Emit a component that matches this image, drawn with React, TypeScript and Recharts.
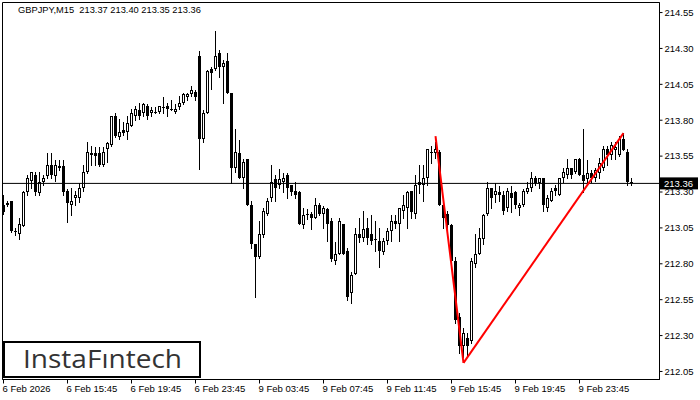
import React from "react";
import { ComposedChart, Bar, Line, XAxis, YAxis, ReferenceLine, ReferenceArea } from "recharts";

// GBPJPY M15 candles
const OPEN = [
  213.21, 213.22, 213.24, 213.03, 213.01, 213.06, 213.30, 213.38, 213.42, 213.29,
  213.37, 213.41, 213.49, 213.41, 213.48, 213.48, 213.31, 213.21, 213.26, 213.26,
  213.33, 213.44, 213.57, 213.57, 213.57, 213.49, 213.60, 213.63, 213.83, 213.68,
  213.73, 213.72, 213.76, 213.83, 213.87, 213.85, 213.90, 213.85, 213.855, 213.86,
  213.89, 213.90, 213.88, 213.86, 213.89, 213.92, 213.96, 213.98, 214.00, 214.25,
  213.67, 213.85, 214.16, 214.16, 214.27, 214.17, 214.21, 213.99, 213.47, 213.57,
  213.40, 213.53, 213.21, 212.94, 212.85, 213.00, 213.15, 213.26, 213.39, 213.35,
  213.37, 213.42, 213.35, 213.31, 213.30, 213.07, 213.15, 213.15, 213.12, 213.21,
  213.15, 213.18, 213.10, 212.82, 212.87, 213.08, 212.89, 212.60, 212.73, 213.01,
  212.98, 213.05, 213.01, 212.97, 212.96, 212.88, 212.96, 213.03, 213.10, 213.08,
  213.17, 213.19, 213.31, 213.15, 213.37, 213.35, 213.40, 213.58, 213.57, 213.58,
  213.21, 213.15, 213.07, 212.82, 212.43, 212.23, 212.28, 212.26, 212.80, 212.87,
  212.97, 213.15, 213.33, 213.28, 213.30, 213.28, 213.19, 213.29, 213.30, 213.19,
  213.21, 213.30, 213.33, 213.40, 213.36, 213.40, 213.19, 213.24, 213.33, 213.28,
  213.40, 213.42, 213.47, 213.44, 213.53, 213.42, 213.39, 213.43, 213.40, 213.43,
  213.47, 213.60, 213.56, 213.59, 213.56, 213.67, 213.58, 213.37,
];
const HIGH = [
  213.28, 213.24, 213.24, 213.05, 213.12, 213.31, 213.42, 213.44, 213.44, 213.44,
  213.42, 213.57, 213.57, 213.52, 213.52, 213.52, 213.32, 213.33, 213.31, 213.36,
  213.49, 213.65, 213.62, 213.61, 213.61, 213.61, 213.65, 213.83, 213.85, 213.81,
  213.79, 213.83, 213.88, 213.90, 213.92, 213.92, 213.91, 213.89, 213.89, 213.90,
  213.96, 213.92, 213.94, 213.91, 213.97, 213.99, 213.99, 214.04, 214.01, 214.28,
  213.87, 214.15, 214.17, 214.42, 214.29, 214.22, 214.27, 213.99, 213.74, 213.66,
  213.53, 213.53, 213.24, 212.94, 213.10, 213.19, 213.26, 213.49, 213.42, 213.46,
  213.43, 213.43, 213.35, 213.37, 213.31, 213.19, 213.18, 213.16, 213.26, 213.22,
  213.20, 213.19, 213.12, 212.95, 213.12, 213.08, 212.91, 212.74, 213.05, 213.12,
  213.17, 213.12, 213.14, 213.10, 213.05, 212.98, 213.05, 213.14, 213.14, 213.19,
  213.28, 213.31, 213.31, 213.42, 213.49, 213.49, 213.60, 213.62, 213.65, 213.59,
  213.21, 213.17, 213.08, 212.85, 212.46, 212.35, 212.32, 212.84, 213.01, 213.05,
  213.15, 213.37, 213.33, 213.36, 213.34, 213.31, 213.33, 213.34, 213.31, 213.22,
  213.32, 213.37, 213.44, 213.41, 213.40, 213.40, 213.28, 213.33, 213.35, 213.40,
  213.47, 213.53, 213.47, 213.53, 213.54, 213.74, 213.52, 213.45, 213.47, 213.54,
  213.62, 213.62, 213.65, 213.65, 213.69, 213.71, 213.60, 213.40,
];
const LOW = [
  213.15, 213.20, 213.02, 213.00, 212.97, 213.06, 213.28, 213.33, 213.28, 213.28,
  213.35, 213.40, 213.40, 213.38, 213.45, 213.28, 213.09, 213.14, 213.21, 213.23,
  213.31, 213.43, 213.49, 213.49, 213.48, 213.48, 213.51, 213.62, 213.68, 213.67,
  213.70, 213.67, 213.76, 213.80, 213.81, 213.83, 213.81, 213.83, 213.85, 213.85,
  213.85, 213.83, 213.87, 213.85, 213.88, 213.91, 213.94, 213.97, 213.94, 213.46,
  213.65, 213.85, 214.02, 214.15, 214.10, 213.92, 213.99, 213.36, 213.44, 213.40,
  213.33, 213.21, 212.91, 212.57, 212.84, 212.99, 213.14, 213.24, 213.24, 213.33,
  213.30, 213.26, 213.28, 213.26, 213.08, 213.05, 213.11, 213.04, 213.12, 213.14,
  213.05, 212.96, 212.82, 212.80, 212.87, 212.87, 212.55, 212.53, 212.73, 212.95,
  212.96, 212.94, 212.94, 212.89, 212.78, 212.87, 212.94, 212.96, 213.05, 212.96,
  213.12, 213.05, 213.12, 213.12, 213.29, 213.24, 213.35, 213.50, 213.54, 213.21,
  213.05, 213.05, 212.82, 212.39, 212.18, 212.15, 212.15, 212.25, 212.78, 212.87,
  212.94, 213.14, 213.19, 213.23, 213.24, 213.15, 213.17, 213.16, 213.19, 213.14,
  213.20, 213.29, 213.31, 213.35, 213.33, 213.17, 213.17, 213.24, 213.28, 213.28,
  213.37, 213.40, 213.40, 213.43, 213.42, 213.30, 213.35, 213.37, 213.38, 213.40,
  213.45, 213.49, 213.53, 213.53, 213.55, 213.59, 213.35, 213.35,
];
const CLOSE = [
  213.16, 213.21, 213.03, 213.02, 213.08, 213.30, 213.40, 213.44, 213.30, 213.37,
  213.40, 213.49, 213.42, 213.49, 213.47, 213.30, 213.22, 213.24, 213.28, 213.33,
  213.44, 213.58, 213.56, 213.55, 213.49, 213.58, 213.64, 213.83, 213.69, 213.72,
  213.71, 213.78, 213.85, 213.88, 213.83, 213.91, 213.83, 213.87, 213.85, 213.90,
  213.89, 213.88, 213.87, 213.88, 213.92, 213.98, 213.98, 214.01, 213.96, 213.67,
  213.85, 214.14, 214.13, 214.25, 214.17, 214.20, 213.99, 213.47, 213.58, 213.40,
  213.51, 213.21, 212.94, 212.85, 213.01, 213.17, 213.24, 213.37, 213.33, 213.39,
  213.40, 213.33, 213.30, 213.28, 213.08, 213.14, 213.14, 213.12, 213.21, 213.15,
  213.19, 213.08, 212.83, 212.87, 213.10, 212.87, 212.57, 212.72, 213.01, 212.98,
  213.04, 212.98, 212.96, 212.97, 212.89, 212.96, 213.03, 213.10, 213.08, 213.19,
  213.21, 213.30, 213.16, 213.35, 213.35, 213.40, 213.60, 213.575, 213.60, 213.21,
  213.12, 213.07, 212.82, 212.41, 212.23, 212.32, 212.23, 212.82, 212.87, 212.98,
  213.14, 213.33, 213.26, 213.31, 213.28, 213.17, 213.31, 213.26, 213.21, 213.21,
  213.31, 213.33, 213.40, 213.36, 213.40, 213.21, 213.26, 213.31, 213.31, 213.40,
  213.44, 213.47, 213.42, 213.53, 213.42, 213.38, 213.43, 213.40, 213.45, 213.50,
  213.60, 213.56, 213.63, 213.61, 213.67, 213.59, 213.37, 213.36,
];

// pattern lines: [bar index, price]
const LINE_DOWN = [[108, 213.69], [115, 212.11]];
const LINE_UP = [[115, 212.11], [155, 213.71]];

const TIME_TICKS = [0, 16, 32, 48, 64, 80, 96, 112, 128, 144];
const TIME_LABELS = [
  "6 Feb 2026", "6 Feb 15:45", "6 Feb 19:45", "6 Feb 23:45", "9 Feb 03:45",
  "9 Feb 07:45", "9 Feb 11:45", "9 Feb 15:45", "9 Feb 19:45", "9 Feb 23:45",
];
const PRICE_TICKS = [212.05, 212.3, 212.55, 212.8, 213.05, 213.3, 213.55, 213.8, 214.05, 214.3, 214.55];
const LAST_PRICE = 213.36;

const FONT = "'Liberation Sans', Arial, sans-serif";

const rows = OPEN.map((o, i) => ({
  i,
  open: o,
  high: HIGH[i],
  low: LOW[i],
  close: CLOSE[i],
  down: null as number | null,
  up: null as number | null,
}));
LINE_DOWN.forEach(([i, p]) => (rows[i].down = p));
LINE_UP.forEach(([i, p]) => (rows[i].up = p));

function Candle(props: any) {
  const { x, y, width, height, payload } = props;
  if (!payload) return null;
  const top = Math.min(y, y + height);
  const h = Math.abs(height);
  const { open, high, low, close } = payload;
  const range = high - low;
  const py = (p: number) => (range > 0 ? top + ((high - p) / range) * h : top);
  const cx = Math.floor(x + width / 2) + 0.5;
  const yo = py(open);
  const yc = py(close);
  const t = Math.round(Math.min(yo, yc));
  const b = Math.round(Math.max(yo, yc));

  let body;
  if (close > open && b - t >= 2) {
    body = <rect x={cx - 1} y={t + 0.5} width={2} height={b - t - 1} fill="#fff" stroke="#000" strokeWidth={1} />;
  } else if (close < open && b - t >= 1) {
    body = <rect x={cx - 1.5} y={t} width={3} height={b - t} fill="#000" />;
  } else {
    body = <line x1={cx - 1.5} x2={cx + 1.5} y1={t + 0.5} y2={t + 0.5} stroke="#000" strokeWidth={1} />;
  }
  return (
    <g shapeRendering="crispEdges">
      <line x1={cx} x2={cx} y1={Math.round(py(high))} y2={Math.round(py(low)) + 1} stroke="#000" strokeWidth={1} />
      {body}
    </g>
  );
}

function TimeTick({ x, y, payload }: any) {
  const k = TIME_TICKS.indexOf(payload.value);
  return (
    <text x={x - 1} y={y} dy="0.71em" fontSize={9.5} fontFamily={FONT} fill="#000" textAnchor="start">
      {TIME_LABELS[k]}
    </text>
  );
}

function PriceTick({ x, y, payload }: any) {
  if (payload.value === LAST_PRICE) {
    return (
      <g>
        <rect x={660} y={y - 6} width={38} height={12} fill="#000" />
        <text x={664} y={y} dy="0.355em" fontSize={9.5} fontFamily={FONT} fill="#fff" textAnchor="start">
          {payload.value.toFixed(2)}
        </text>
      </g>
    );
  }
  return (
    <text x={x} y={y} dy="0.355em" fontSize={9.5} fontFamily={FONT} fill="#000" textAnchor="start">
      {payload.value.toFixed(2)}
    </text>
  );
}

export default function App() {
  return (
    <div style={{ position: "absolute", left: 0, top: 0, width: 700, height: 400, background: "#fff" }}>
      <ComposedChart width={700} height={400} data={rows} margin={{ top: 2.5, right: 0, left: 2.5, bottom: 0 }}>
        <XAxis
          type="number"
          dataKey="i"
          domain={[-0.25, 164]}
          ticks={TIME_TICKS}
          interval={0}
          allowDataOverflow
          height={20.5}
          tickSize={4}
          tickMargin={2}
          stroke="#000"
          tick={<TimeTick />}
        />
        <YAxis
          orientation="right"
          type="number"
          domain={[211.994, 214.62]}
          ticks={[...PRICE_TICKS, LAST_PRICE]}
          interval={0}
          allowDataOverflow
          width={40.5}
          tickSize={3}
          tickMargin={2}
          stroke="#000"
          tick={<PriceTick />}
        />
        <ReferenceArea x1={-0.25} x2={164} y1={211.994} y2={214.62} fill="none" fillOpacity={0} stroke="#000" strokeWidth={1} />
        <ReferenceLine y={LAST_PRICE} stroke="#000" strokeWidth={1} />
        <Bar dataKey={(d: any) => [d.low, d.high]} barSize={3} shape={<Candle />} isAnimationActive={false} />
        <Line dataKey="down" stroke="#ff0000" strokeWidth={2} dot={false} connectNulls isAnimationActive={false} />
        <Line dataKey="up" stroke="#ff0000" strokeWidth={2} dot={false} connectNulls isAnimationActive={false} />
      </ComposedChart>

      <div style={{ position: "absolute", left: 18, top: 5, fontSize: 9.3, fontFamily: FONT, whiteSpace: "pre", color: "#000", lineHeight: "11px" }}>
        GBPJPY,M15  213.37 213.40 213.35 213.36
      </div>

      <div
        style={{
          position: "absolute",
          left: 3,
          top: 341,
          width: 194,
          height: 33,
          border: "2px solid #000",
          background: "#fff",
        }}
      >
        <svg width={194} height={33} style={{ overflow: "visible" }}>
          <text x={18} y={25} fontSize={25} fontFamily="'Open Sans', sans-serif" fontWeight={500} fill="#333" textLength={159} lengthAdjust="spacingAndGlyphs">
            InstaFıntech
          </text>
        </svg>
      </div>
    </div>
  );
}
